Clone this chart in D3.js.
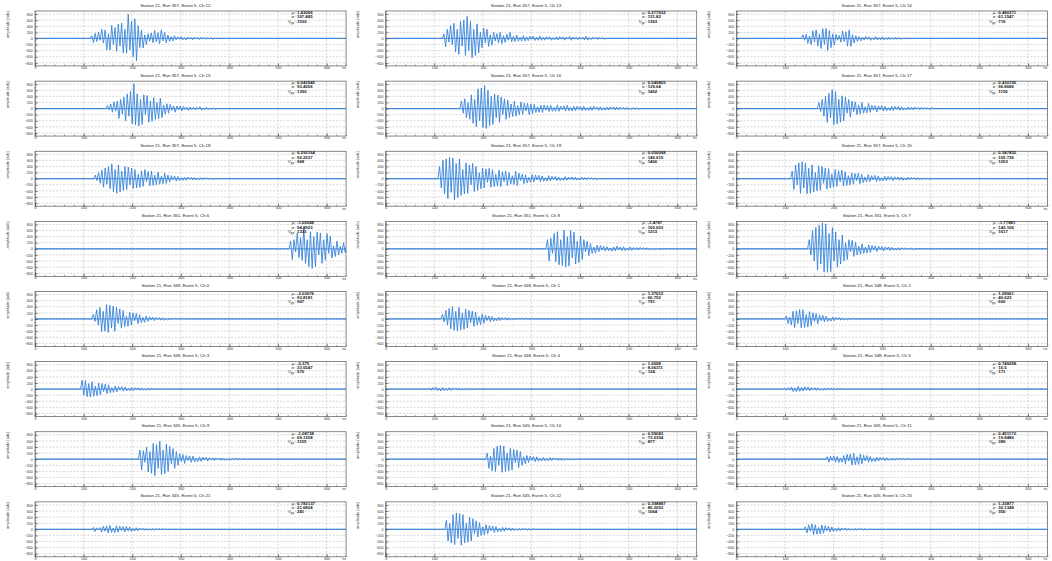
<!DOCTYPE html>
<html>
<head>
<meta charset="utf-8">
<script src="https://cdn.jsdelivr.net/npm/d3@7"></script>
<style>
  body { margin: 0; background: #fff; }
  svg { display: block; font-family: "Liberation Sans", Arial, sans-serif; }
</style>
</head>
<body>
<svg id="chart" width="1052" height="561"></svg>
<script>
// waveform extremes are spaced by this many ns
const halfPeriod = 3.4;

const runs = [357, 357, 357, 357, 357, 357, 357, 357, 357, 351, 351, 351,
              348, 348, 348, 348, 348, 348, 345, 345, 345, 345, 345, 345];
const channels = [12, 13, 14, 15, 16, 17, 18, 19, 20, 6, 8, 7,
                  0, 1, 2, 3, 4, 5, 9, 10, 11, 21, 22, 23];
const means = ["1.43066", "0.277632", "0.480371", "0.543945", "0.549805", "0.435195",
               "0.293164", "0.050098", "0.547852", "-1.00548", "-1.4787", "-1.77881",
               "-2.03076", "1.37012", "1.09961", "-0.375", "1.0098", "0.749258",
               "-1.08738", "0.59083", "0.451172", "0.782137", "0.398887", "1.23877"];
const sigmas = ["107.485", "131.82", "61.1547", "93.4206", "139.64", "96.8686",
                "92.2237", "146.619", "105.736", "94.8923", "105.653", "143.106",
                "93.8181", "60.752", "40.623", "33.6547", "8.06311", "10.5",
                "69.1358", "73.0354", "19.8486", "21.6824", "86.2053", "30.1348"];
const vpps = [1530, 1363, 719, 1390, 1402, 1150, 968, 1400, 1053, 1331, 1213, 1617,
              907, 791, 600, 570, 124, 171, 1125, 877, 389, 241, 1064, 350];
// signal start time (ns)
const starts = [117, 120, 137, 149, 156, 170, 124, 111, 115, 526, 333, 150,
                120, 117, 103, 97, 90, 100, 216, 209, 187, 120, 125, 142];

const wf12 = [90,-140,170,-100,210,-60,300,-150,280,-370,150,-380,430,-200,360,-420,470,-250,500,-475,
  300,-480,800,-380,560,-600,640,-730,420,-300,280,-310,120,-200,150,-90,180,-140,260,-110,
  190,-170,280,-80,200,-140,110,-100,60,-80,90,-45,55,-30,60,-45,25,-50,40,-20,
  35,-42,45,-15,30,-34,38,-20,32,-28,30,-15,28,-22];
const wf13 = [150,-280,300,-120,420,-200,500,-440,300,-520,560,-250,600,-560,730,-400,560,-633,300,-560,
  480,-475,200,-300,340,-150,300,-260,120,-220,200,-80,160,-150,200,-170,90,-130,140,-60,
  200,-110,70,-100,110,-90,40,-85,90,-80,50,-70,75,-30,80,-65,40,-60,85,-60,
  35,-55,60,-30,55,-60,20,-45,55,-50,60,-25,50,-55,45,-20,70,-60,50,-25,
  40,-42,45,-20,40,-50,75,-55,25,-40,38,-15,40,-36,35,-20,32,-30];
const wf14 = [120,-60,140,-160,80,-200,250,-120,280,-250,150,-330,320,-200,329,-390,260,-300,150,-220,
  130,-60,100,-120,250,-100,220,-250,280,-260,120,-150,90,-100,60,-80,40,-55,65,-30,
  55,-60,20,-45,60,-50,25,-40,50,-45,20,-38,42,-35,15,-32,35,-30,30,-28];
const wf15 = [100,-40,150,-120,220,-80,250,-320,300,-180,380,-400,480,-250,560,-500,820,-540,480,-570,
  300,-520,450,-200,430,-450,250,-420,360,-350,200,-330,340,-300,120,-180,160,-150,140,-60,
  90,-120,85,-40,80,-75,70,-30,45,-60,50,-25,40,-45,42,-20,60,-55,20,-35,
  38,-32,15,-30,32,-28];
const wf16 = [250,-150,320,-300,200,-350,450,-480,300,-600,650,-400,680,-620,750,-652,600,-572,400,-520,
  480,-300,440,-450,380,-200,320,-350,280,-300,150,-260,240,-250,100,-200,220,-190,180,-80,
  170,-200,150,-160,140,-130,60,-120,110,-130,120,-50,100,-95,110,-90,40,-85,120,-90,
  80,-30,90,-75,110,-70,40,-80,75,-70,80,-30,70,-65,75,-60,30,-60,65,-55,
  80,-20,55,-60,60,-50,30,-55,50,-45,55,-20,60,-45,50,-40,45,-20,40,-35,
  38,-32,15,-30,32,-30,30,-28];
const wf17 = [200,-100,300,-250,400,-450,500,-300,620,-530,560,-500,300,-450,420,-400,380,-150,300,-280,
  250,-100,220,-200,120,-180,200,-150,60,-140,170,-120,110,-50,100,-110,90,-40,100,-80,
  75,-70,30,-65,80,-60,70,-25,75,-55,60,-50,20,-45,55,-40,45,-38,50,-15,
  40,-35,42,-30,35,-15,30,-28,32];
const wf18 = [120,-60,200,-150,280,-280,350,-180,400,-330,490,-420,300,-478,450,-440,250,-380,400,-350,
  380,-200,350,-320,300,-300,150,-280,260,-250,300,-100,240,-230,250,-220,120,-200,220,-180,
  80,-160,180,-150,120,-110,100,-40,90,-80,70,-60,30,-55,50,-50,55,-20,45,-40,
  40,-38,15,-40,35,-32,35,-15,30,-28,28,-25];
const wf19 = [400,-300,600,-500,650,-650,700,-450,680,-700,500,-620,650,-550,300,-500,520,-480,450,-200,
  500,-420,400,-380,200,-330,350,-300,320,-120,340,-280,300,-260,150,-240,280,-260,230,-100,
  250,-230,200,-180,100,-190,250,-220,180,-60,150,-160,130,-140,50,-120,140,-110,120,-40,
  110,-100,90,-85,40,-80,100,-75,80,-30,75,-65,60,-60,20,-55,70,-50,55,-20,
  60,-45,50,-45,15,-40,50,-38,40,-35,38,-15,35,-30,32,-28];
const wf20 = [250,-350,450,-200,520,-480,560,-300,520,-493,350,-480,450,-430,200,-400,420,-380,400,-150,
  350,-340,330,-300,150,-280,300,-250,260,-100,280,-240,230,-220,100,-200,190,-180,170,-60,
  180,-160,150,-130,60,-110,140,-100,100,-40,110,-90,90,-80,30,-70,80,-65,75,-25,
  70,-60,65,-20,60,-50,55,-50,20,-45,50,-40,45,-15,40,-38,35,-32,15,-30,
  32,-28,28,-25];
const wf6 = [250,-350,300,-100,520,-280,370,-370,690,-475,300,-580,560,-641,400,-580,550,-200,520,-475,
  300,-370,500,-150,420,-300,100,-250,250,-200,80,-150,200,-120,150,-60,120,-100,100,-40,
  90,-80,70,-60];
const wf8 = [300,-400,350,-150,500,-420,560,-520,300,-550,620,-593,400,-560,600,-300,550,-500,250,-450,
  420,-350,300,-100,250,-220,170,-150,60,-140,120,-100,110,-40,80,-75,70,-60,30,-80,
  65,-70,90,-30,60,-55,70,-60,20,-50,60,-50,45,-20,40,-38,45,-15,38,-32,
  35,-30,15,-30,28,-28,30,-25];
const wf7 = [300,-200,600,-400,700,-700,780,-500,850,-760,820,-767,500,-750,700,-400,550,-600,300,-500,
  450,-400,200,-350,300,-100,280,-250,220,-200,80,-180,160,-150,60,-140,130,-120,110,-40,
  100,-90,85,-30,75,-70,65,-20,60,-55,50,-45,20,-40,40,-38,35,-15,35,-30,
  30,-28,28,-25];
const wf0 = [150,-80,300,-200,380,-420,250,-400,470,-437,450,-300,420,-400,380,-150,330,-300,280,-250,
  100,-240,220,-200,200,-60,180,-150,140,-120,50,-110,100,-80,70,-30,60,-55,50,-20,
  45,-40,42,-38,15,-35,32,-30,30,-10,28,-25,25,-22,20];
const wf1 = [150,-100,280,-200,350,-320,400,-370,250,-391,380,-360,200,-340,330,-300,280,-120,260,-240,
  220,-200,80,-180,160,-140,120,-50,100,-90,80,-70,30,-60,55,-50,45,-20,45,-40,
  38,-35,15,-35,32,-30,28,-10,28,-25,22];
const wf2 = [100,-150,60,-200,250,-280,270,-150,310,-290,300,-280,150,-260,240,-220,200,-80,180,-160,
  140,-60,120,-100,90,-80,30,-70,60,-55,50,-20,45,-40,38,-35,15,-32,30,-28,25];
const wf3 = [290,-200,280,-250,180,-260,240,-230,100,-220,200,-190,180,-80,160,-150,140,-120,50,-110,
  100,-90,85,-30,80,-70,65,-60,20,-55,50,-50,45,-20,45,-40,42,-38,15,-40,
  35,-35,32,-12,32,-30,30,-28,28,-25,25];
const wf4 = [30,-40,50,-20,62,-55,30,-62,55,-50,20,-48,45,-42,38,-15,40,-35,30,-32,
  10,-30,28,-25,25,-22,10,-22,20,-18,18];
const wf5 = [30,-40,50,-30,70,-80,40,-85,86,-75,60,-65,75,-40,70,-55,50,-20,50,-45,
  42,-40,15,-38,35,-32,30,-10,30,-28,25,-25,22,-10,22,-20,18,-15];
const wf9 = [300,-350,280,-100,400,-420,250,-460,520,-535,480,-300,590,-500,300,-480,500,-400,420,-150,
  350,-300,250,-200,180,-80,150,-140,120,-40,110,-100,100,-90,30,-80,75,-70,70,-25,
  65,-60,50,-20,45,-45,42,-15,40,-38,35,-35,12,-32,30,-30,28,-10,28,-25,
  25,-22,20];
const wf10 = [200,-300,100,-380,350,-400,420,-200,450,-427,430,-400,200,-380,360,-350,320,-120,300,-280,
  250,-200,80,-150,120,-110,100,-40,90,-85,80,-70,30,-60,55,-55,20,-50,50,-45,
  45,-15,42,-40,38,-38,12,-35,32,-30,28,-25];
const wf11 = [80,-100,90,-40,110,-100,90,-110,40,-100,120,-150,160,-60,170,-189,200,-180,80,-170,
  160,-150,130,-60,120,-100,90,-80,30,-75,70,-65,60,-20,55,-50,45,-40,15,-38,
  35,-35,32,-12,30,-28,28,-25,25,-10,22,-20,20,-18];
const wf21 = [60,-70,50,-20,60,-90,100,-60,110,-116,125,-100,40,-110,120,-95,100,-40,90,-85,
  95,-50,80,-70,30,-55,50,-45,40,-15,35,-32,30,-30,10,-25,25,-22,22,-8,
  20,-18,18];
const wf22 = [300,-380,200,-450,480,-500,540,-300,520,-524,480,-450,200,-420,400,-380,350,-150,280,-250,
  220,-200,80,-180,150,-140,120,-50,110,-100,90,-80,30,-70,65,-60,55,-20,50,-45,
  45,-40,15,-35,32,-30,30,-10,28,-25,25,-22,20];
const wf23 = [80,-120,150,-60,180,-170,150,-160,60,-150,140,-130,120,-50,100,-90,80,-75,30,-60,
  55,-50,45,-15,40,-35,32,-30,10,-25,25,-22,22,-8,20,-18,18,-15];

const waves = [wf12, wf13, wf14, wf15, wf16, wf17, wf18, wf19, wf20, wf6, wf8, wf7,
               wf0, wf1, wf2, wf3, wf4, wf5, wf9, wf10, wf11, wf21, wf22, wf23];

const xTicks = [0, 100, 200, 300, 400, 500, 600];
const yTicks = [-800, -600, -400, -200, 0, 200, 400, 600, 800];

const W = 1052 / 3, H = 561 / 8;
const margin = {top: 11, right: 4.6, bottom: 4.2, left: 35};

const x = d3.scaleLinear().domain([0, 640]).range([margin.left, W - margin.right]);
const y = d3.scaleLinear().domain([-900, 900]).range([H - margin.bottom, margin.top]);

const svg = d3.select("#chart");
const line = d3.line().x(d => x(d[0])).y(d => y(d[1]));
const blue = "#2f7fd8";

waves.forEach(function (wf, i) {
    const col = i % 3, row = Math.floor(i / 3);
    const g = svg.append("g").attr("transform", `translate(${col * W}, ${row * H})`);

    // grid
    g.append("g").selectAll("line").data(xTicks.slice(1)).enter().append("line")
        .attr("x1", d => x(d)).attr("x2", d => x(d))
        .attr("y1", margin.top).attr("y2", H - margin.bottom)
        .attr("stroke", "#bdbdbd").attr("stroke-width", 0.6).attr("stroke-dasharray", "2,1.5");
    g.append("g").selectAll("line").data(yTicks).enter().append("line")
        .attr("x1", margin.left).attr("x2", W - margin.right)
        .attr("y1", d => y(d)).attr("y2", d => y(d))
        .attr("stroke", "#bdbdbd").attr("stroke-width", 0.6).attr("stroke-dasharray", "2,1.5");

    // trace
    const t0 = starts[i];
    const pts = [[0, 0], [t0 - halfPeriod, 0]];
    wf.forEach((v, k) => pts.push([t0 + k * halfPeriod, v]));
    const tEnd = t0 + wf.length * halfPeriod;
    if (tEnd < 640) { pts.push([tEnd, 0]); pts.push([640, 0]); }
    g.append("clipPath").attr("id", "clip" + i).append("rect")
        .attr("x", margin.left).attr("y", margin.top)
        .attr("width", W - margin.right - margin.left).attr("height", H - margin.bottom - margin.top);
    // noisy baseline look
    g.append("line").attr("x1", x(0)).attr("x2", x(640)).attr("y1", y(0)).attr("y2", y(0))
        .attr("stroke", blue).attr("stroke-width", 1.25).attr("stroke-opacity", 0.6);
    g.append("path").datum(pts)
        .attr("clip-path", `url(#clip${i})`)
        .attr("fill", "none").attr("stroke", blue).attr("stroke-width", 0.85)
        .attr("d", line);

    // axes, ROOT style ticks inward
    const xMinor = d3.axisBottom(x).ticks(32).tickSize(-1.4).tickFormat("");
    const xAxis = d3.axisBottom(x).tickValues(xTicks).tickSize(-2.8).tickPadding(0.6)
        .tickFormat(d3.format("d"));
    const yMinor = d3.axisLeft(y).ticks(45).tickSize(-1.3).tickFormat("");
    const yAxis = d3.axisLeft(y).tickValues(yTicks).tickSize(-3).tickPadding(2.2);

    [xMinor, xAxis].forEach(a => {
        g.append("g").attr("transform", `translate(0, ${H - margin.bottom})`).call(a);
    });
    [yMinor, yAxis].forEach(a => {
        g.append("g").attr("transform", `translate(${margin.left}, 0)`).call(a);
    });
    g.selectAll(".domain").remove();
    g.selectAll(".tick line").attr("stroke", "#333").attr("stroke-width", 0.5);
    g.selectAll(".tick text").attr("font-size", 3.6).attr("fill", "#333");

    // frame
    g.append("rect").attr("x", margin.left).attr("y", margin.top)
        .attr("width", W - margin.right - margin.left).attr("height", H - margin.bottom - margin.top)
        .attr("fill", "none").attr("stroke", "#555").attr("stroke-width", 0.7);

    // titles
    g.append("text").attr("x", W / 2).attr("y", 6.5).attr("text-anchor", "middle")
        .attr("font-size", 4.4).attr("fill", "#222")
        .text(`Station 21, Run ${runs[i]}, Event 5, Ch ${channels[i]}`);
    g.append("text").attr("transform", `translate(8.5, ${margin.top}) rotate(-90)`)
        .attr("text-anchor", "end").attr("font-size", 4).attr("fill", "#333")
        .text("amplitude [adc]");
    g.append("text").attr("x", W - margin.right).attr("y", H - 0.8).attr("text-anchor", "end")
        .attr("font-size", 3.6).attr("fill", "#333").text("ns");

    // stats
    const sx = 296.5;
    const stats = [["\u03bc : ", means[i]], ["\u03c3 : ", sigmas[i]], ["V", String(vpps[i])]];
    stats.forEach((s, k) => {
        const yy = 14 + k * 4.3;
        const lab = g.append("text").attr("x", sx).attr("y", yy).attr("text-anchor", "end")
            .attr("font-size", 4.3).attr("fill", "#222");
        if (k < 2) lab.text(s[0]);
        else {
            lab.append("tspan").text("V");
            lab.append("tspan").attr("dy", 1).attr("font-size", 3).text("pp");
            lab.append("tspan").attr("dy", -1).text(" : ");
        }
        g.append("text").attr("x", sx + 0.5).attr("y", yy).attr("font-size", 4.3)
            .attr("font-weight", "bold").attr("fill", "#111").text(s[1]);
    });
});
</script>
</body>
</html>
